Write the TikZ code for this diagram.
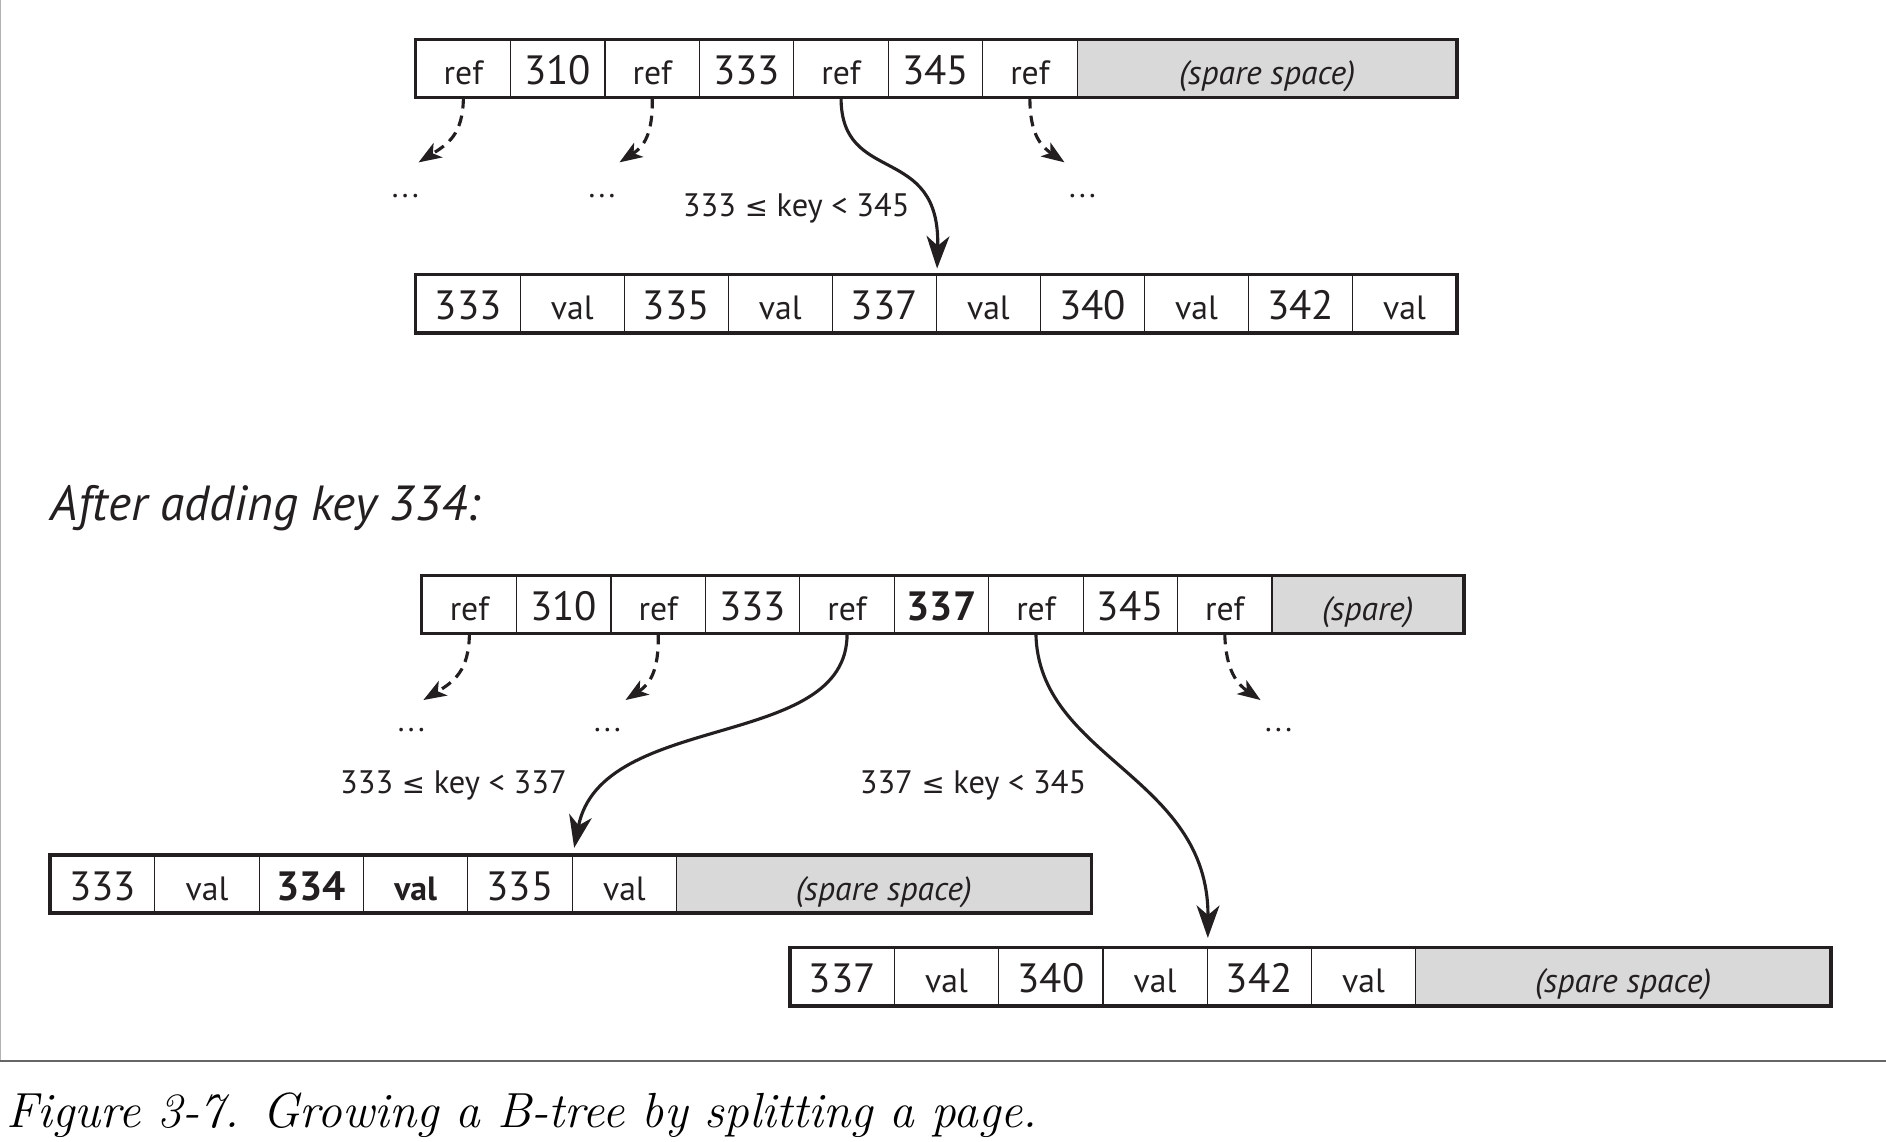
\documentclass[tikz,border=0pt]{standalone}
\usepackage{fontspec}
\newfontfamily\diag{PT Sans}
\newfontfamily\symf{DejaVu Sans}
\usetikzlibrary{arrows.meta}
\definecolor{ink}{HTML}{231F20}
\definecolor{sparegray}{HTML}{D9D9D9}
\newcommand\numf{\fontsize{34}{36}\selectfont}
\newcommand\numb{\fontsize{34}{36}\selectfont\bfseries}
\newcommand\myle{{\symf\fontsize{23}{26}\selectfont ≤}}
\newcommand\ddd{.\kern2.8pt.\kern2.8pt.}
\begin{document}
\begin{tikzpicture}[x=1pt,y=-1pt,
  cell/.style={draw=ink, line width=0.9pt, minimum height=47.5pt, inner sep=0pt, text=ink,
    text height=26.5pt, text depth=0pt, font=\diag\fontsize{28}{30}\selectfont},
  spare/.style={cell, fill=sparegray, font=\diag\itshape\fontsize{28}{30}\selectfont},
  outer/.style={draw=ink, line width=3pt},
  solidarrow/.style={draw=ink, line width=2.6pt, -{Stealth[length=27pt,width=19pt,inset=8pt]}},
  dasharrow/.style={draw=ink, line width=2.6pt, dash pattern=on 9pt off 6pt, -{Stealth[length=19pt,width=14pt,inset=5pt]}},
  lbl/.style={text=ink, font=\diag\fontsize{27}{30}\selectfont, inner sep=0pt, anchor=base},
  dots/.style={text=ink, font=\diag\fontsize{26}{30}\selectfont, inner sep=0pt, anchor=base},
]
\useasboundingbox (0,0) rectangle (1568,949);
\fill[white] (0,0) rectangle (1568,949);

% frame
\draw[gray!60, line width=1pt] (0.5,0) -- (0.5,882);
\draw[gray!80!black, line width=1.5pt] (0,882) -- (1568,882);

% ---------- top internal page ----------
\foreach \t [count=\i] in {ref,{\numf 310},ref,{\numf 333},ref,{\numf 345},ref}
  \node[cell, minimum width=78.5pt] (a\i) at ({346+78.5*(\i-0.5)},57) {\t};
\node[spare, minimum width=315pt] (aS) at (1053.5,57) {(spare space)};
\draw[outer] (a1.north west) rectangle (aS.south east);

% ---------- top leaf page ----------
\foreach \t [count=\i] in {{\numf 333},val,{\numf 335},val,{\numf 337},val,{\numf 340},val,{\numf 342},val}
  \node[cell, minimum width=86.5pt] (b\i) at ({346+86.5*(\i-0.5)},252.5) {\t};
\draw[outer] (b1.north west) rectangle (b10.south east);

% ---------- arrows top ----------
\coordinate (d1) at (348,135);
\coordinate (d2) at (515,135);
\coordinate (d3) at (885,135);
\draw[dasharrow] (a1.south) .. controls (385,112) and (372,120) .. (d1);
\draw[dasharrow] (a3.south) .. controls (543,112) and (535,122) .. (d2);
\draw[dasharrow] (a7.south) .. controls (856,112) and (866,122) .. (d3);
\draw[solidarrow, shorten >=5pt] (a5.south) .. controls (699,155) and (782,118) .. (b5.north east);

\node[dots] (e1) at (337,164) {\ddd};
\node[dots] (e2) at (500.5,164) {\ddd};
\node[dots] (e3) at (900,164) {\ddd};
\node[lbl] (k1) at (662,180) {333 \myle{} key < 345};

% ---------- title ----------
\node[anchor=base west, inner sep=0pt, text=ink, font=\diag\itshape\fontsize{41}{44}\selectfont] (title) at (42,433) {After adding key 334:};

% ---------- bottom internal page ----------
\foreach \t [count=\i] in {ref,{\numf 310},ref,{\numf 333},ref,{\numb 337},ref,{\numf 345},ref}
  \node[cell, minimum width=78.5pt] (c\i) at ({351+78.5*(\i-0.5)},502.5) {\t};
\node[spare, minimum width=158.5pt] (cS) at (1137.25,502.5) {(spare)};
\draw[outer] (c1.north west) rectangle (cS.south east);

% ---------- left leaf ----------
\foreach \t [count=\i] in {{\numf 333},val,{\numb 334},{\bfseries val},{\numf 335},val}
  \node[cell, minimum width=86.75pt] (l\i) at ({42+86.75*(\i-0.5)},735) {\t};
\node[spare, minimum width=344.5pt] (lS) at (734.75,735) {(spare space)};
\draw[outer] (l1.north west) rectangle (lS.south east);

% ---------- right leaf ----------
\foreach \t [count=\i] in {{\numf 337},val,{\numf 340},val,{\numf 342},val}
  \node[cell, minimum width=86.67pt] (r\i) at ({657+86.67*(\i-0.5)},812) {\t};
\node[spare, minimum width=345pt] (rS) at (1349.5,812) {(spare space)};
\draw[outer] (r1.north west) rectangle (rS.south east);

% ---------- arrows bottom ----------
\coordinate (f1) at (352,582);
\coordinate (f2) at (520,582);
\coordinate (f3) at (1048,582);
\draw[dasharrow] (c1.south) .. controls (390,558) and (377,567) .. (f1);
\draw[dasharrow] (c3.south) .. controls (548,558) and (540,569) .. (f2);
\draw[dasharrow] (c9.south) .. controls (1019,558) and (1029,569) .. (f3);
\draw[solidarrow, shorten >=6pt] (c5.south) .. controls (705,625) and (500,590) .. (l5.north east);
\draw[solidarrow, shorten >=8pt] (c7.south) .. controls (863,630) and (1005,645) .. (r4.north east);

\node[dots] (g1) at (342,608.5) {\ddd};
\node[dots] (g2) at (505,608.5) {\ddd};
\node[dots] (g3) at (1063,608.5) {\ddd};
\node[lbl] (k2) at (377,660) {333 \myle{} key < 337};
\node[lbl] (k3) at (809,660) {337 \myle{} key < 345};

% ---------- caption ----------
\node[anchor=base west, inner sep=0pt, text=black, font=\itshape\fontsize{41}{44}\selectfont] (cap) at (5,937) {Figure 3-7. Growing a B-tree by splitting a page.};
\end{tikzpicture}
\end{document}
